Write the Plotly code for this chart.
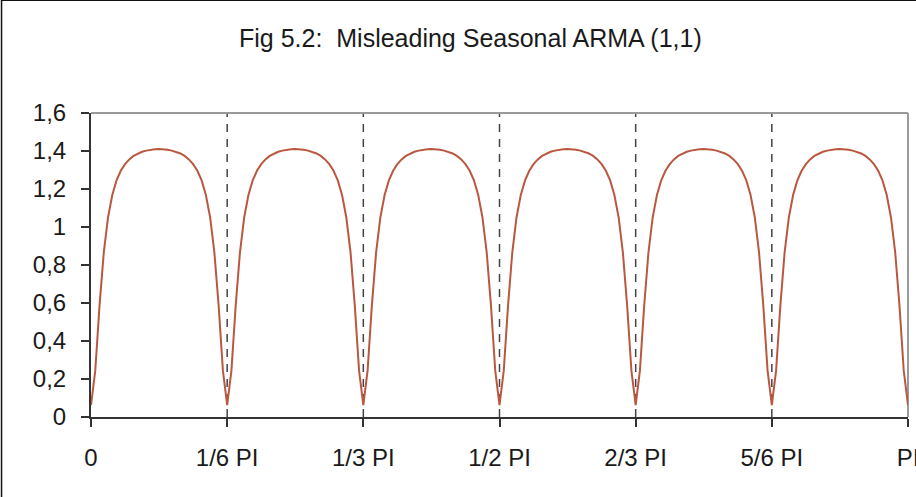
import plotly.graph_objects as go

# Spectral density values (six identical seasonal humps)
hump1 = [0.063, 0.244, 0.585, 0.865, 1.050, 1.168, 1.245, 1.296, 1.331, 1.356, 1.374, 1.387, 1.396, 1.402, 1.407, 1.409,
         1.410, 1.409, 1.407, 1.402, 1.396, 1.387, 1.374, 1.356, 1.331, 1.296, 1.245, 1.168, 1.050, 0.865, 0.585, 0.244]
hump2 = [0.063, 0.244, 0.585, 0.865, 1.050, 1.168, 1.245, 1.296, 1.331, 1.356, 1.374, 1.387, 1.396, 1.402, 1.407, 1.409,
         1.410, 1.409, 1.407, 1.402, 1.396, 1.387, 1.374, 1.356, 1.331, 1.296, 1.245, 1.168, 1.050, 0.865, 0.585, 0.244]
hump3 = [0.063, 0.244, 0.585, 0.865, 1.050, 1.168, 1.245, 1.296, 1.331, 1.356, 1.374, 1.387, 1.396, 1.402, 1.407, 1.409,
         1.410, 1.409, 1.407, 1.402, 1.396, 1.387, 1.374, 1.356, 1.331, 1.296, 1.245, 1.168, 1.050, 0.865, 0.585, 0.244]
hump4 = [0.063, 0.244, 0.585, 0.865, 1.050, 1.168, 1.245, 1.296, 1.331, 1.356, 1.374, 1.387, 1.396, 1.402, 1.407, 1.409,
         1.410, 1.409, 1.407, 1.402, 1.396, 1.387, 1.374, 1.356, 1.331, 1.296, 1.245, 1.168, 1.050, 0.865, 0.585, 0.244]
hump5 = [0.063, 0.244, 0.585, 0.865, 1.050, 1.168, 1.245, 1.296, 1.331, 1.356, 1.374, 1.387, 1.396, 1.402, 1.407, 1.409,
         1.410, 1.409, 1.407, 1.402, 1.396, 1.387, 1.374, 1.356, 1.331, 1.296, 1.245, 1.168, 1.050, 0.865, 0.585, 0.244]
hump6 = [0.063, 0.244, 0.585, 0.865, 1.050, 1.168, 1.245, 1.296, 1.331, 1.356, 1.374, 1.387, 1.396, 1.402, 1.407, 1.409,
         1.410, 1.409, 1.407, 1.402, 1.396, 1.387, 1.374, 1.356, 1.331, 1.296, 1.245, 1.168, 1.050, 0.865, 0.585, 0.244]
last_point = [0.063]

density = hump1 + hump2 + hump3 + hump4 + hump5 + hump6 + last_point
n_points = len(density)
freq = list(range(n_points))  # frequency index, 0 .. PI

x_tick_labels = ["0", "1/6 PI", "1/3 PI", "1/2 PI", "2/3 PI", "5/6 PI", "PI"]
x_tick_pos = [i * 32 for i in range(len(x_tick_labels))]
y_tick_vals = [0, 0.2, 0.4, 0.6, 0.8, 1.0, 1.2, 1.4, 1.6]
y_tick_text = ["0", "0,2", "0,4", "0,6", "0,8", "1", "1,2", "1,4", "1,6"]

FONT = "Liberation Sans, Arial, sans-serif"

fig = go.Figure()
fig.add_trace(go.Scatter(
    x=freq, y=density, mode="lines",
    line=dict(color="#BA583F", width=2),
    hoverinfo="skip", showlegend=False,
))

shapes = []
# dashed vertical separators
for xv in x_tick_pos[1:]:
    shapes.append(dict(type="line", xref="x", yref="paper", x0=xv, x1=xv, y0=0, y1=1,
                       line=dict(color="#444444", width=1.5, dash="8px,7px"), layer="below"))
# plot area top and right border (gray)
shapes.append(dict(type="line", xref="paper", yref="paper", x0=0, x1=1, y0=1, y1=1,
                   line=dict(color="#9a9a9a", width=2), layer="below"))
shapes.append(dict(type="line", xref="paper", yref="paper", x0=1, x1=1, y0=0, y1=1,
                   line=dict(color="#9a9a9a", width=2), layer="below"))
# outer chart border
shapes.append(dict(type="rect", xref="paper", yref="paper",
                   x0=-0.1095, x1=1.02, y0=-0.30, y1=1.3705,
                   line=dict(color="#111111", width=1.5), layer="below"))

fig.update_layout(
    width=916, height=497,
    margin=dict(l=91, r=8, t=113, b=80, autoexpand=False),
    paper_bgcolor="white", plot_bgcolor="white",
    font=dict(family=FONT, size=24, color="#1a1a1a"),
    shapes=shapes,
    showlegend=False,
    annotations=[dict(text="Fig 5.2:  Misleading Seasonal ARMA (1,1)", xref="paper", yref="paper",
                      x=0.464, y=1.248, xanchor="center", yanchor="middle", showarrow=False,
                      font=dict(family=FONT, size=25, color="#1a1a1a"))],
)
fig.update_xaxes(
    range=[0, n_points - 1], tickmode="array", tickvals=x_tick_pos, ticktext=x_tick_labels,
    showgrid=False, zeroline=False, showline=True, linecolor="#333333", linewidth=2,
    ticks="outside", ticklen=8, tickcolor="#333333", tickwidth=1.5,
    ticklabelstandoff=10, ticklabeloverflow="allow", automargin=False, fixedrange=True,
)
fig.update_yaxes(
    range=[0, 1.6], tickmode="array", tickvals=y_tick_vals, ticktext=y_tick_text,
    showgrid=False, zeroline=False, showline=True, linecolor="#333333", linewidth=2,
    ticks="outside", ticklen=8, tickcolor="#333333", tickwidth=1.5,
    ticklabelstandoff=10, automargin=False, fixedrange=True,
)

fig.write_html("out.html", config={"displayModeBar": False})
